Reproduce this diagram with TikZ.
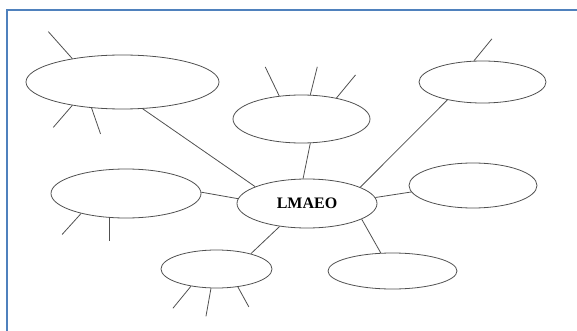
\documentclass[tikz,border=0pt]{standalone}
\usepackage{fontspec}
\setmainfont{Liberation Serif}
\usetikzlibrary{shapes.geometric}
\definecolor{FrameBlue}{RGB}{79,129,189}
\definecolor{LineGray}{RGB}{80,80,80}
\begin{document}
\begin{tikzpicture}[x=1pt,y=-1pt,
        bubble/.style={ellipse, draw=LineGray, line width=0.8pt, inner sep=0pt},
        link/.style={draw=LineGray, line width=0.8pt}]
        %以中心橢圓為主的心智圖
        \useasboundingbox (0,0) rectangle (577,331);
        \coordinate (FrameLow) at (7,331);
        \coordinate (FrameCorner) at (7,10);
        \coordinate (FrameEnd) at (577,10);
        \draw [draw=FrameBlue, line width=2.5pt]
        (FrameLow) -- (FrameCorner) -- (FrameEnd);

        \node[bubble, minimum width=140pt, minimum height=49pt,
              font=\fontsize{16}{19}\selectfont\bfseries] (Center) at (307,203.5) {LMAEO};
        \node[bubble, minimum width=193pt, minimum height=54pt] (Bubble1) at (122.5,82) {};
        \node[bubble, minimum width=137pt, minimum height=48pt] (Bubble2) at (301.5,119) {};
        \node[bubble, minimum width=127pt, minimum height=42pt] (Bubble3) at (482.5,82) {};
        \node[bubble, minimum width=150pt, minimum height=49pt] (Bubble4) at (126,193.5) {};
        \node[bubble, minimum width=128pt, minimum height=45pt] (Bubble5) at (473,185.5) {};
        \node[bubble, minimum width=111pt, minimum height=38pt] (Bubble6) at (216.5,269) {};
        \node[bubble, minimum width=129pt, minimum height=36pt] (Bubble7) at (392.5,271) {};

        \foreach \s/\t in
        { Bubble1.-53/Center.162,
            Bubble2.-70/Center.99,
            Bubble3.207/Center.17,
            Bubble4.1/Center.176,
            Bubble5.186/Center.5,
            Bubble6.24/Center.220,
            Bubble7.123/Center.-16
        }
        {
            \draw[link] (\s) -- (\t);
        };

        \foreach \v/\u/\dx/\dy in
        { Bubble1/155/-24/-27,
            Bubble1/205/-19/22,
            Bubble1/220/9/26,
            Bubble2/134/-14/-29,
            Bubble2/70/7/-28,
            Bubble2/31/19/-23,
            Bubble3/112/18/-22,
            Bubble4/204/-19/21,
            Bubble4/235/0/23,
            Bubble6/214/-18/22,
            Bubble6/254/-5/28,
            Bubble6/320/11/20
        }
        {
            \draw[link] (\v.\u) -- ++(\dx,\dy);
        };
        \end{tikzpicture}
\end{document}
